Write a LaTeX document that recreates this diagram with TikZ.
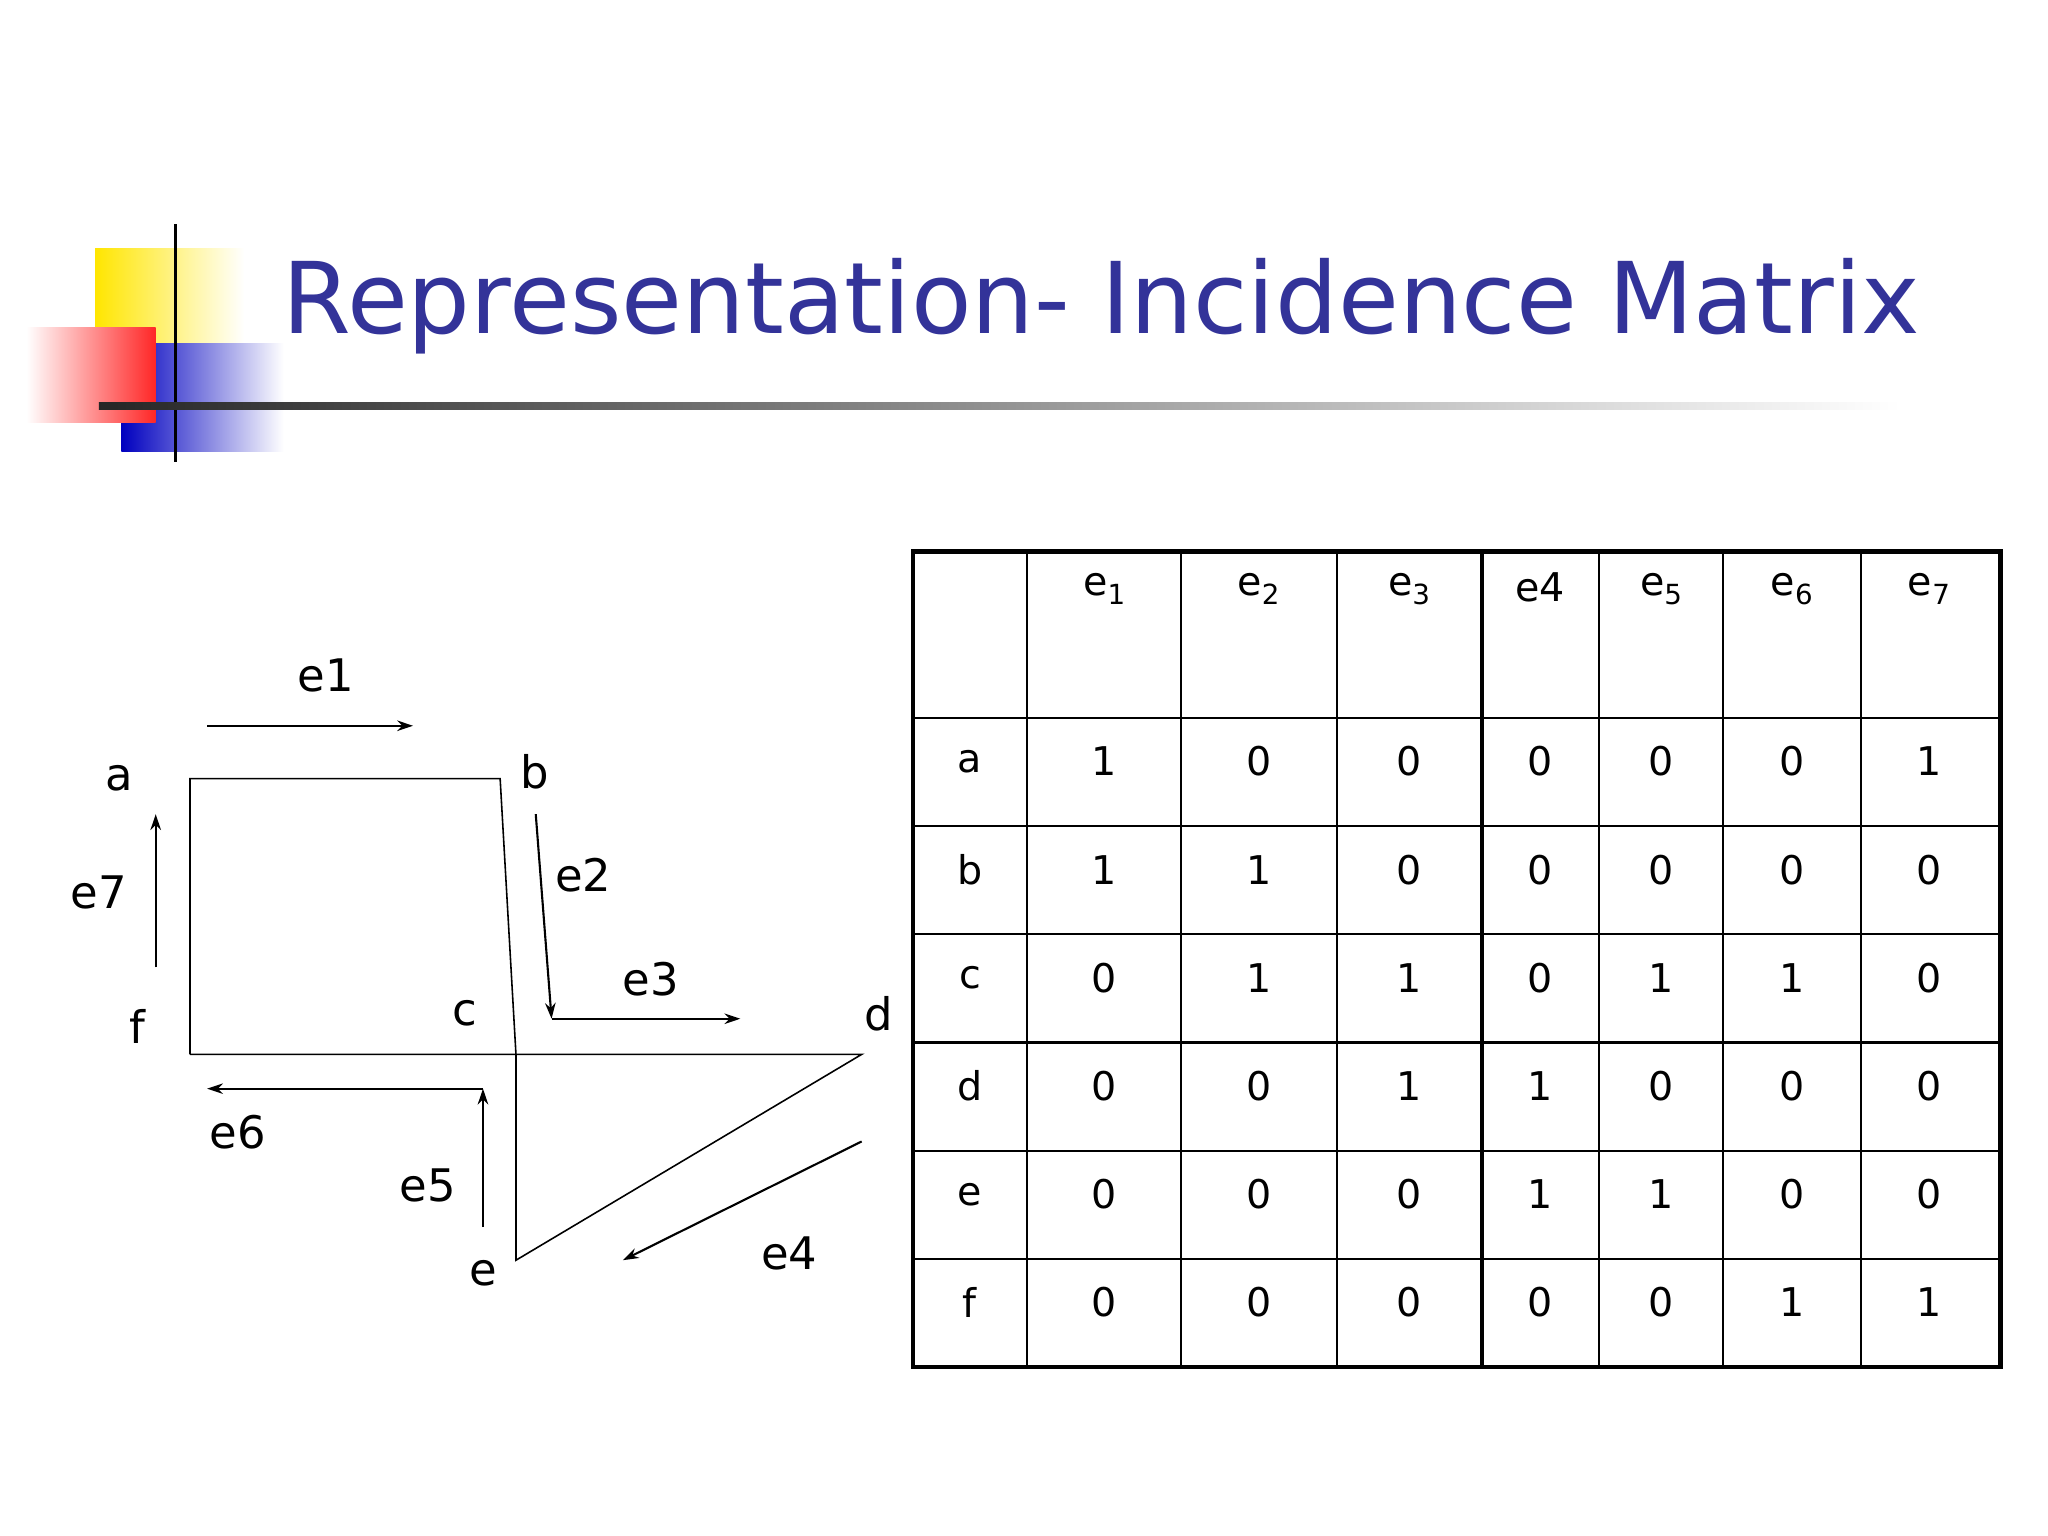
\documentclass[tikz,border=0pt]{standalone}
\usepackage{fontspec}
\setmainfont{DejaVu Sans}
\usetikzlibrary{arrows.meta}
\definecolor{titleblue}{HTML}{333399}
\begin{document}
\begin{tikzpicture}[x=1pt,y=-1pt,
  lbl/.style={font=\fontsize{34}{36}\selectfont, inner sep=0},
  cell/.style={font=\fontsize{30}{32}\selectfont, inner sep=0},
  arr/.style={-{Stealth[length=12pt,width=8pt]}, line width=1.6pt},
  edge/.style={line width=1.2pt}]
\useasboundingbox (0,0) rectangle (1552,1164);
\fill[white] (0,0) rectangle (1552,1164);
% logo
\shade[left color=yellow!80!orange, right color=white] (72,188) rectangle (185,260);
\shade[left color=blue!75!black, right color=white] (92,260) rectangle (215,342);
\shade[left color=white, right color=red!85] (20,248) rectangle (118,320);
\draw[line width=3pt] (133,170) -- (133,350);
\shade[left color=black!85, right color=white] (75,305) rectangle (1440,310);
\node[anchor=west, inner sep=0, text=titleblue, font=\fontsize{75}{78}\selectfont] (title) at (214,232) {Representation- Incidence Matrix};
% graph
\coordinate (a) at (144,590); \coordinate (b) at (379,590);
\coordinate (c) at (391,799); \coordinate (f) at (144,799);
\coordinate (d) at (653,799); \coordinate (e) at (391,955);
\draw[edge] (f) -- (a) -- (b) -- (c) -- (e) -- (d) -- (f);
\node[lbl] (la) at (90,590) {a}; \node[lbl] (lb) at (405,585) {b};
\node[lbl] (lc) at (352,768) {c}; \node[lbl] (lf) at (104,778) {f};
\node[lbl] (ld) at (666,768) {d}; \node[lbl] (le) at (366,965) {e};
\coordinate (a1) at (157,550); \coordinate (a2) at (313,550);
\coordinate (b1) at (406,617); \coordinate (b2) at (418,772);
\coordinate (c2) at (561,772);
\coordinate (d1) at (653,865); \coordinate (d2) at (472,955);
\coordinate (e1) at (366,930); \coordinate (e2) at (366,825);
\coordinate (f2) at (157,825);
\coordinate (g1) at (118,733); \coordinate (g2) at (118,617);
\draw[arr] (a1) -- (a2); \node[lbl] at (247,512) {e1};
\draw[arr] (b1) -- (b2); \node[lbl] at (442,663) {e2};
\draw[arr] (b2) -- (c2); \node[lbl] at (493,742) {e3};
\draw[arr] (d1) -- (d2); \node[lbl] at (598,950) {e4};
\draw[arr] (e1) -- (e2); \node[lbl] at (324,898) {e5};
\draw[arr] (e2) -- (f2); \node[lbl] at (180,858) {e6};
\draw[arr] (g1) -- (g2); \node[lbl] at (75,676) {e7};
% table
\foreach \x in {778,895,1013,1212,1306,1410} \draw[line width=1.6pt] (\x,418) -- (\x,1036);
\draw[line width=3.5pt] (1123,418) -- (1123,1036);
\foreach \y in {544,626,708,790,872,954} \draw[line width=1.6pt] (692,\y) -- (1516,\y);
\draw[line width=3.5pt] (692,418) rectangle (1516,1036);
\def\cx{{735,837,954,1068,1167,1259,1358,1462}}
\foreach \t [count=\i] in {e\textsubscript{1},e\textsubscript{2},e\textsubscript{3},e4,e\textsubscript{5},e\textsubscript{6},e\textsubscript{7}}
  \node[cell, anchor=north] at ({\cx[\i]},434) {\t};
\foreach \r [count=\j] in {{a,1,0,0,0,0,0,1},{b,1,1,0,0,0,0,0},{c,0,1,1,0,1,1,0},{d,0,0,1,1,0,0,0},{e,0,0,0,1,1,0,0},{f,0,0,0,0,0,1,1}}{
  \foreach \v [count=\i from 0] in \r
    \node[cell] at ({\cx[\i]},{544+82*(\j-1)+33}) {\v};
}
\end{tikzpicture}
\end{document}
